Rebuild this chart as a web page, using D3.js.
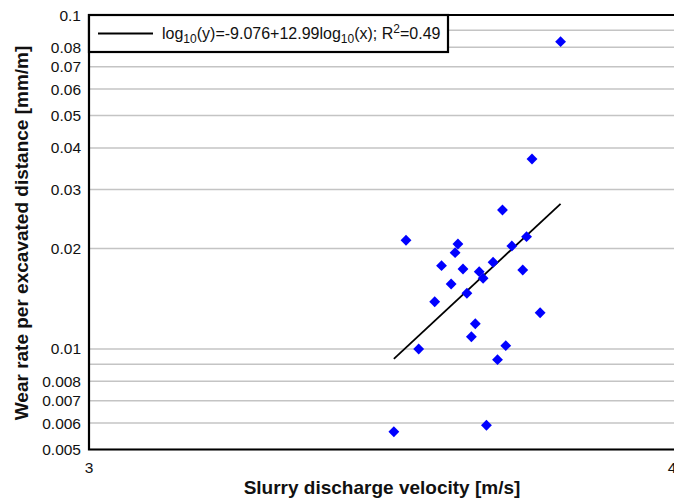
<!DOCTYPE html>
<html>
<head>
<meta charset="utf-8">
<script src="https://cdn.jsdelivr.net/npm/d3@7"></script>
<style>
  body { margin: 0; background: #fff; }
  text { font-family: "Liberation Sans", Arial, sans-serif; }
</style>
</head>
<body>
<script>
// measured points: slurry discharge velocity [m/s] vs wear rate [mm/m]
var velocity = [3.786, 3.733, 3.679, 3.723, 3.508, 3.599, 3.696, 3.594, 3.662, 3.570,
                3.608, 3.716, 3.637, 3.644, 3.587, 3.615, 3.558, 3.748, 3.630, 3.623,
                3.685, 3.530, 3.670, 3.487, 3.650];
var wearRate = [0.0832, 0.03706, 0.02607, 0.02169, 0.02116, 0.02062, 0.02034, 0.01942, 0.01818, 0.01776,
                0.01736, 0.01724, 0.01704, 0.01628, 0.01565, 0.01468, 0.01385, 0.01284, 0.0119, 0.01088,
                0.01023, 0.0100, 0.00929, 0.00565, 0.00591];

// fitted power law: log10(y) = a + b*log10(x)
var fitA = -9.076, fitB = 12.99;

var yTicks = [0.1, 0.09, 0.08, 0.07, 0.06, 0.05, 0.04, 0.03, 0.02, 0.01, 0.009, 0.008, 0.007, 0.006, 0.005];
var yTickLabels = ["0.1", "", "0.08", "0.07", "0.06", "0.05", "0.04", "0.03", "0.02", "0.01", "", "0.008", "0.007", "0.006", "0.005"];
var xTicks = [3, 4];

var width = 674, height = 500;
var margin = {top: 15, right: 2, bottom: 50.5, left: 89};
var plotW = 672 - margin.left, plotH = height - margin.top - margin.bottom;

var svg = d3.select("body").append("svg")
    .attr("width", width)
    .attr("height", height);

var x = d3.scaleLog().domain([3, 4]).range([margin.left, margin.left + plotW]);
var y = d3.scaleLog().domain([0.005, 0.1]).range([margin.top + plotH, margin.top]);

// gridlines
svg.append("g")
  .selectAll("line")
  .data(yTicks)
  .enter().append("line")
    .attr("x1", margin.left)
    .attr("x2", width)
    .attr("y1", function(d) { return y(d); })
    .attr("y2", function(d) { return y(d); })
    .attr("stroke", "#c4c4c4")
    .attr("stroke-width", 1.5);

// y axis labels
svg.append("g")
  .selectAll("text")
  .data(yTicks)
  .enter().append("text")
    .attr("x", margin.left - 8)
    .attr("y", function(d) { return y(d) + 5.5; })
    .attr("text-anchor", "end")
    .attr("font-size", 15.5)
    .attr("fill", "#111")
    .text(function(d, i) { return yTickLabels[i]; });

// x axis labels
svg.append("g")
  .selectAll("text")
  .data(xTicks)
  .enter().append("text")
    .attr("x", function(d) { return x(d); })
    .attr("y", margin.top + plotH + 23)
    .attr("text-anchor", "middle")
    .attr("font-size", 15.5)
    .attr("fill", "#111")
    .text(function(d) { return d; });

// frame: left, bottom, top
var x0 = margin.left, y0 = margin.top + plotH;
svg.append("path")
    .attr("d", "M" + width + "," + margin.top + "H" + x0 + "V" + y0 + "H" + width)
    .attr("fill", "none")
    .attr("stroke", "#000")
    .attr("stroke-width", 2.2);

// fit line across the data range
var xFit = d3.extent(velocity);
var fitLine = d3.line()
    .x(function(d) { return x(d); })
    .y(function(d) { return y(Math.pow(10, fitA + fitB * Math.log10(d))); });
svg.append("path")
    .datum(xFit)
    .attr("d", fitLine)
    .attr("fill", "none")
    .attr("stroke", "#000")
    .attr("stroke-width", 1.8);

// points (diamonds)
var sym = d3.symbol().type(d3.symbolDiamond2).size(75);
svg.append("g")
  .selectAll("path")
  .data(velocity)
  .enter().append("path")
    .attr("d", sym)
    .attr("transform", function(d, i) { return "translate(" + x(d) + "," + y(wearRate[i]) + ")"; })
    .attr("fill", "#0000ff");

// legend
var leg = svg.append("g");
leg.append("rect")
    .attr("x", margin.left)
    .attr("y", margin.top)
    .attr("width", 448 - margin.left)
    .attr("height", 52 - margin.top)
    .attr("fill", "#fff")
    .attr("stroke", "#000")
    .attr("stroke-width", 2.2);
leg.append("line")
    .attr("x1", 98).attr("x2", 153)
    .attr("y1", 33.5).attr("y2", 33.5)
    .attr("stroke", "#000")
    .attr("stroke-width", 1.8);
var lt = leg.append("text")
    .attr("x", 162)
    .attr("y", 39)
    .attr("font-size", 16)
    .attr("fill", "#111");
lt.append("tspan").text("log");
lt.append("tspan").attr("font-size", 12).attr("dy", 4).text("10");
lt.append("tspan").attr("dy", -4).text("(y)=-9.076+12.99log");
lt.append("tspan").attr("font-size", 12).attr("dy", 4).text("10");
lt.append("tspan").attr("dy", -4).text("(x); R");
lt.append("tspan").attr("font-size", 12).attr("dy", -6).text("2");
lt.append("tspan").attr("dy", 6).text("=0.49");

// axis titles
svg.append("text")
    .attr("x", 382)
    .attr("y", 494)
    .attr("text-anchor", "middle")
    .attr("font-size", 19)
    .attr("font-weight", "bold")
    .attr("fill", "#111")
    .text("Slurry discharge velocity [m/s]");

svg.append("text")
    .attr("transform", "translate(28,233) rotate(-90)")
    .attr("text-anchor", "middle")
    .attr("font-size", 19)
    .attr("font-weight", "bold")
    .attr("fill", "#111")
    .text("Wear rate per excavated distance [mm/m]");
</script>
</body>
</html>
